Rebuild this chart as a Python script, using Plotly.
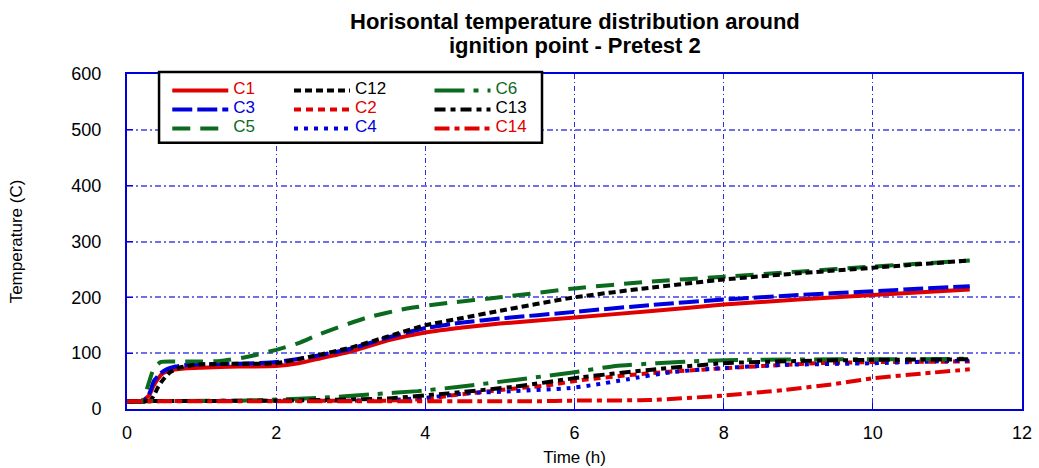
import plotly.graph_objects as go

# ---- data (time in hours, temperature in C) ----
t_c1 = [0, 0.2, 0.3, 0.35, 0.42, 0.48, 0.58, 0.67, 0.8, 1.0, 1.5, 2.0, 2.3, 2.6, 3.0, 3.5, 4.0, 4.5, 5.0, 6.0, 7.0, 8.0, 9.0, 10.0, 11.3]
v_c1 = [14, 14, 25, 40, 55, 64, 69, 71, 73, 74, 76, 77, 82, 91, 103, 123, 137, 146, 153, 164, 175, 187, 196, 204, 214]

t_c3 = [0, 0.2, 0.27, 0.31, 0.36, 0.45, 0.53, 0.65, 0.8, 1.0, 1.5, 2.0, 2.5, 3.0, 3.5, 4.0, 4.5, 5.0, 6.0, 7.0, 8.0, 9.0, 10.0, 11.3]
v_c3 = [14, 14, 20, 31, 50, 64, 71, 76, 79, 80, 81, 84, 94, 108, 128, 145, 155, 162, 174, 186, 196, 204, 211, 220]

t_c5 = [0, 0.2, 0.24, 0.3, 0.36, 0.45, 0.6, 1.0, 1.25, 1.6, 2.0, 2.3, 2.6, 3.2, 3.75, 4.3, 5.0, 6.0, 7.0, 8.0, 9.0, 10.0, 11.3]
v_c5 = [14, 14, 25, 50, 73, 84, 85, 85, 86, 93, 106, 118, 135, 163, 180, 190, 200, 216, 228, 237, 246, 255, 266]

t_c12 = [0, 0.3, 0.35, 0.42, 0.48, 0.58, 0.7, 0.85, 1.0, 1.5, 2.0, 2.5, 3.0, 3.5, 4.0, 4.5, 5.0, 6.0, 7.0, 8.0, 9.0, 10.0, 11.3]
v_c12 = [14, 14, 22, 40, 52, 66, 74, 78, 80, 81, 82, 95, 110, 130, 150, 163, 176, 200, 217, 232, 243, 253, 266]

t_c2 = [0, 3.0, 3.5, 4.0, 4.33, 5.0, 5.67, 6.1, 7.0, 8.0, 9.25, 10.0, 11.3]
v_c2 = [14, 15, 15, 18, 24, 34, 43, 52, 64, 73, 82, 84, 85]

t_c4 = [0, 3.0, 3.5, 4.0, 4.55, 5.2, 5.9, 6.25, 6.7, 7.3, 7.95, 8.8, 10.0, 11.3]
v_c4 = [14, 15, 16, 20, 28, 32, 37, 43, 53, 66, 73, 79, 82, 87]

t_c6 = [0, 1.5, 2.0, 2.6, 3.25, 3.9, 4.4, 5.2, 6.0, 6.55, 7.1, 7.7, 8.35, 9.5, 10.5, 11.3]
v_c6 = [14, 15, 17, 20, 26, 32, 39, 52, 66, 77, 82, 86, 88, 89, 89, 90]

t_c13 = [0, 2.0, 2.6, 3.5, 4.3, 5.2, 6.1, 7.0, 8.0, 9.0, 10.0, 11.3]
v_c13 = [14, 15, 16, 19, 28, 40, 57, 70, 82, 86, 88, 89]

t_c14 = [0, 5.5, 6.0, 7.0, 8.0, 8.8, 9.5, 10.0, 10.7, 11.3]
v_c14 = [14, 14, 15, 16, 24, 34, 45, 55, 64, 71]

x_ticks = [0, 2, 4, 6, 8, 10, 12]
y_ticks = [0, 100, 200, 300, 400, 500, 600]

title_lines = ["Horisontal temperature distribution around", "ignition point - Pretest 2"]

RED = "#e00000"
BLUE = "#0000dd"
GREEN = "#0b6a1e"
BLACK = "#000000"

# (name, time, values, colour, dash, legend column)
series = [
    ("C1", t_c1, v_c1, RED, "solid", "legend"),
    ("C3", t_c3, v_c3, BLUE, "20px,5px", "legend"),
    ("C5", t_c5, v_c5, GREEN, "18px,10px", "legend"),
    ("C12", t_c12, v_c12, BLACK, "7px,4px", "legend2"),
    ("C2", t_c2, v_c2, RED, "7px,5px", "legend2"),
    ("C4", t_c4, v_c4, BLUE, "4px,6px", "legend2"),
    ("C6", t_c6, v_c6, GREEN, "30px,9px,5px,9px", "legend3"),
    ("C13", t_c13, v_c13, BLACK, "11px,5px,5px,5px", "legend3"),
    ("C14", t_c14, v_c14, RED, "15px,5px,5px,5px", "legend3"),
]

fig = go.Figure()
for name, t, v, col, dash, leg in series:
    fig.add_trace(go.Scatter(
        x=t, y=v, mode="lines", legend=leg,
        name=f'<span style="color:{col};font-size:17px">{name}</span>',
        line=dict(color=col, width=4, dash=dash, shape="spline", smoothing=0.5),
    ))

FONT = "Liberation Sans, Arial, sans-serif"
# small base legend font keeps rows tight; the label spans carry the visible size
leg_common = dict(orientation="v", yanchor="top", xanchor="left",
                  bgcolor="rgba(0,0,0,0)", borderwidth=0, itemwidth=56,
                  font=dict(size=10, family=FONT), traceorder="normal")

fig.update_layout(
    width=1039, height=468,
    margin=dict(l=127, r=17, t=74, b=59, autoexpand=False),
    paper_bgcolor="white", plot_bgcolor="white",
    font=dict(family=FONT, size=18, color="black"),
    showlegend=True,
    legend=dict(x=0.045, y=0.994, **leg_common),
    legend2=dict(x=0.181, y=0.994, **leg_common),
    legend3=dict(x=0.338, y=0.994, **leg_common),
    shapes=[dict(type="rect", xref="paper", yref="paper",
                 x0=0.0358, x1=0.4637, y0=0.7946, y1=1.006,
                 line=dict(color="black", width=2.5), fillcolor="white", layer="above")],
    annotations=[
        dict(text=f"<b>{title_lines[0]}</b>", x=0.5, xref="paper", y=1.158, yref="paper",
             xanchor="center", yanchor="middle", showarrow=False, font=dict(size=22, family=FONT)),
        dict(text=f"<b>{title_lines[1]}</b>", x=0.5, xref="paper", y=1.086, yref="paper",
             xanchor="center", yanchor="middle", showarrow=False, font=dict(size=22, family=FONT)),
    ],
)

fig.update_xaxes(
    range=[0, 12], tickvals=x_ticks, ticktext=[str(v) for v in x_ticks],
    showline=True, linecolor=BLUE, linewidth=2, mirror=True, automargin=False,
    ticks="inside", ticklen=6, tickcolor=BLUE, ticklabelstandoff=6,
    showgrid=True, gridcolor="#2a2ae0", gridwidth=1, griddash="5px,3px,1px,3px",
    zeroline=False, tickfont=dict(size=18),
    title=dict(text="Time (h)", font=dict(size=17), standoff=10),
)
fig.update_yaxes(
    range=[0, 600], tickvals=y_ticks, ticktext=[str(v) for v in y_ticks],
    showline=True, linecolor=BLUE, linewidth=2, mirror=True, automargin=False,
    ticks="inside", ticklen=6, tickcolor=BLUE, ticklabelstandoff=20,
    showgrid=True, gridcolor="#7070ee", gridwidth=2, griddash="6px,3px,2px,3px",
    zeroline=False, tickfont=dict(size=18),
    title=dict(text="Temperature (C)", font=dict(size=17), standoff=44),
)

fig.write_html("out.html")
